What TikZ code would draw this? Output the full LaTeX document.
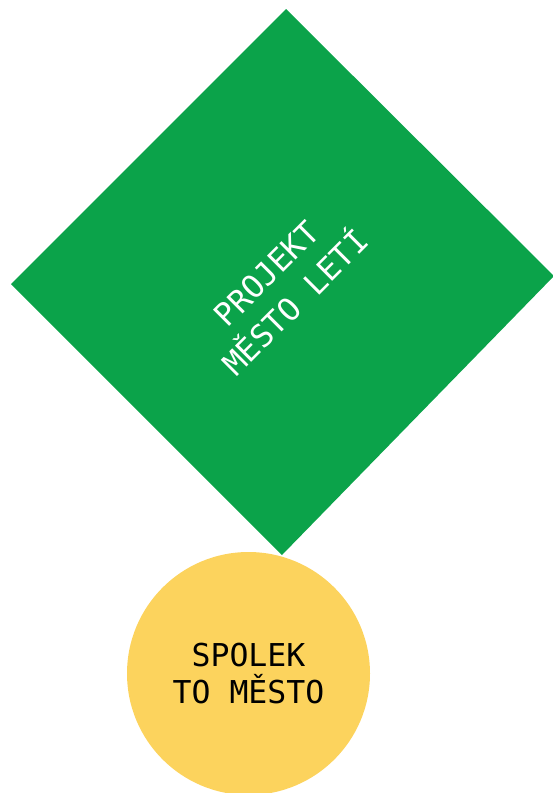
\documentclass[tikz,border=0pt]{standalone}
\usepackage{fontspec}
\setmonofont{DejaVu Sans Mono}
\definecolor{dgreen}{RGB}{11,163,74}
\definecolor{myellow}{RGB}{252,211,93}
\begin{document}
\begin{tikzpicture}[x=1pt,y=-1pt,
  labeltext/.style={font=\ttfamily\fontsize{31.5}{37}\selectfont, align=center, inner sep=0pt}]
\useasboundingbox (0,0) rectangle (553,793);
\clip (0,0) rectangle (553,793);
\fill[dgreen] (286,9) -- (554,276) -- (282,555) -- (11,284) -- cycle;
\fill[myellow] (248.5,673.5) circle (121.5);
\node[labeltext, text=white, rotate=45, font=\ttfamily\fontsize{31.5}{41}\selectfont] (proj) at (281,288) {PROJEKT\\MĚSTO LETÍ};
\node[labeltext, text=black] (spolek) at (248.5,674) {SPOLEK\\TO MĚSTO};
\end{tikzpicture}
\end{document}
